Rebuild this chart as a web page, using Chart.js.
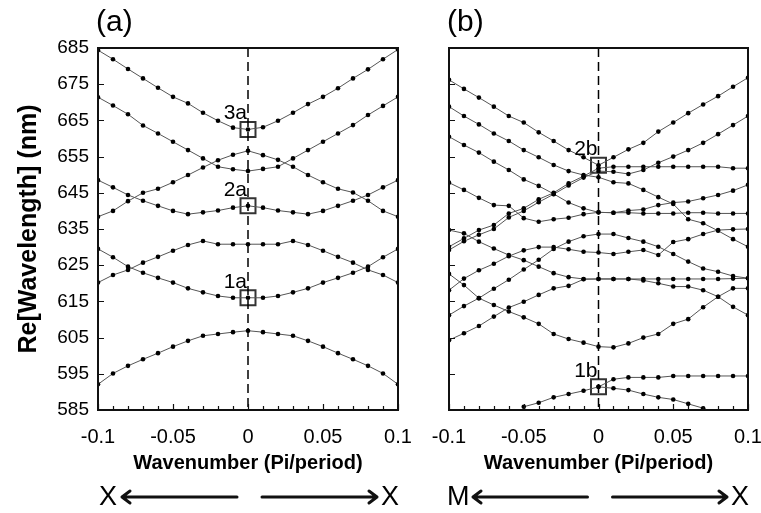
<!DOCTYPE html>
<html>
<head>
<meta charset="utf-8">
<script src="https://cdn.jsdelivr.net/npm/chart.js@4.4.1/dist/chart.umd.min.js"></script>
<style>
  html, body { margin: 0; padding: 0; background: #fff; }
  #wrap { position: relative; width: 761px; height: 513px; background: #fff; }
  #wrap canvas { position: absolute; left: 0; top: 0; }
</style>
</head>
<body>
<div id="wrap">
  <canvas id="chartA" width="761" height="513"></canvas>
  <canvas id="chartB" width="761" height="513"></canvas>
</div>
<script>
// ------------------ Data ------------------
const wavenumber = [-0.1, -0.09, -0.08, -0.07, -0.06, -0.05, -0.04, -0.03, -0.02, -0.01, 0,
                    0.01, 0.02, 0.03, 0.04, 0.05, 0.06, 0.07, 0.08, 0.09, 0.1];
const xTickValues = [-0.1, -0.05, 0, 0.05, 0.1];
const xTickLabels = ["-0.1", "-0.05", "0", "0.05", "0.1"];
const yTicks = [585, 595, 605, 615, 625, 635, 645, 655, 665, 675, 685];

// panel (a), X <- -> X
const a1 = [684.4, 681.9, 679.2, 676.6, 674.0, 671.5, 669.7, 667.1, 664.9, 663.0, 662.5, 663.1, 664.9, 667.1, 669.5, 671.5, 673.9, 676.6, 679.1, 681.9, 684.6];
const a2 = [671.4, 669.1, 666.7, 663.6, 661.4, 659.1, 656.8, 654.5, 652.2, 651.5, 651.0, 651.6, 652.2, 654.5, 656.8, 659.1, 661.4, 663.7, 666.5, 669.0, 671.5];
const a3 = [638.4, 640.0, 642.7, 645.0, 646.1, 647.9, 649.9, 652.0, 654.0, 655.5, 656.6, 655.4, 654.1, 652.2, 649.9, 647.9, 646.1, 645.1, 642.8, 640.0, 638.4];
const a4 = [648.5, 646.5, 644.4, 642.8, 641.4, 640.0, 639.1, 639.6, 640.1, 640.9, 641.4, 640.9, 640.1, 639.6, 639.1, 640.0, 641.4, 642.8, 644.4, 646.5, 648.5];
const a5 = [629.5, 627.2, 624.6, 622.9, 621.5, 620.2, 618.6, 617.5, 616.5, 616.0, 616.0, 616.0, 616.5, 617.5, 618.6, 620.2, 621.5, 622.9, 624.6, 627.2, 629.5];
const a6 = [620.2, 622.3, 623.7, 625.7, 627.3, 629.0, 630.6, 631.7, 630.8, 630.8, 630.8, 630.8, 630.8, 631.7, 630.6, 629.0, 627.3, 625.7, 623.7, 622.3, 620.2];
const a7 = [592.1, 595.1, 597.2, 599.0, 600.7, 602.5, 604.1, 605.5, 606.0, 606.5, 606.9, 606.5, 606.0, 605.5, 604.1, 602.5, 600.7, 599.0, 597.2, 595.1, 592.1];

// panel (b), M <- -> X
const b1 = [676.2, 673.7, 671.3, 668.8, 666.2, 664.4, 661.7, 659.3, 656.8, 654.8, 652.6, 654.8, 657.0, 658.8, 661.9, 664.4, 667.0, 669.4, 671.7, 674.3, 676.8];
const b2 = [668.8, 666.2, 663.9, 661.4, 659.3, 656.8, 654.8, 652.7, 651.0, 649.9, 649.3, 647.9, 647.6, 645.8, 643.8, 641.9, 637.7, 636.6, 634.5, 632.2, 630.1];
const b3 = [630.1, 632.4, 634.7, 636.1, 639.3, 640.7, 643.2, 645.0, 647.6, 649.6, 651.8, 652.2, 652.2, 652.2, 652.2, 652.2, 652.2, 652.2, 652.2, 651.8, 651.8];
const b4 = [629.2, 631.6, 633.4, 635.0, 638.2, 640.0, 642.4, 644.6, 647.0, 649.2, 651.0, 650.8, 650.2, 651.3, 653.3, 655.0, 656.8, 658.8, 661.2, 663.7, 666.2];
const b5 = [660.5, 658.2, 656.1, 653.6, 651.3, 648.7, 646.9, 644.7, 642.3, 640.7, 639.6, 639.5, 639.5, 639.3, 639.3, 639.3, 639.5, 639.5, 639.3, 639.3, 639.3];
const b6 = [647.8, 645.8, 643.6, 641.6, 641.4, 638.0, 637.0, 637.7, 638.1, 639.1, 639.6, 639.5, 640.1, 640.4, 641.6, 642.3, 642.6, 643.5, 644.4, 645.6, 647.2];
const b7 = [634.7, 633.8, 631.5, 629.6, 627.8, 626.4, 624.6, 622.8, 621.7, 621.2, 621.2, 621.2, 621.2, 621.2, 621.2, 621.2, 621.2, 621.2, 621.2, 621.3, 621.4];
const b8 = [611.2, 613.7, 615.9, 618.5, 621.0, 623.8, 626.5, 629.5, 631.5, 633.0, 633.6, 633.6, 632.5, 631.5, 630.1, 628.1, 626.0, 624.1, 623.2, 622.0, 621.4];
const b9 = [618.1, 621.3, 623.6, 625.4, 627.5, 629.1, 630.0, 630.0, 629.4, 628.7, 628.5, 628.1, 628.7, 629.2, 627.8, 631.4, 632.2, 633.6, 634.7, 634.9, 635.0];
const b10 = [604.3, 606.2, 608.2, 610.8, 613.3, 614.9, 616.8, 618.6, 619.3, 621.1, 621.2, 621.2, 621.2, 620.8, 620.0, 619.1, 619.1, 618.1, 616.3, 613.5, 611.2];
const b11 = [622.6, 619.5, 615.9, 614.0, 612.2, 610.6, 608.8, 606.0, 604.6, 603.6, 602.5, 602.3, 603.4, 605.0, 606.0, 608.8, 610.1, 613.4, 616.3, 618.6, 618.6];
const b12 = [null, null, null, null, null, 585.9, 587.0, 588.5, 589.4, 590.3, 591.4, 593.5, 594.0, 594.0, 594.0, 594.4, 594.4, 594.4, 594.4, 594.4, 594.4];
const b13 = [null, null, null, null, null, null, null, null, null, null, 591.4, 591.0, 590.5, 589.4, 588.5, 587.9, 586.7, 585.5, null, null, null];

// marked modes (boxes)
const boxLabelsA = ["3a", "2a", "1a"];
const boxValuesA = [662.5, 641.4, 616.0];
const boxLabelsB = ["2b", "1b"];
const boxValuesB = [652.6, 591.4];

// ------------------ Helpers ------------------
const FONT = "'Liberation Sans', Arial, sans-serif";

function toPoints(values) {
  return values.map((v, i) => ({ x: wavenumber[i], y: v }));
}

function bandDataset(values) {
  return {
    type: "line",
    data: toPoints(values),
    borderColor: "#555",
    borderWidth: 1,
    pointRadius: 2.3,
    pointBackgroundColor: "#000",
    pointBorderColor: "#000",
    pointBorderWidth: 0,
    tension: 0,
    spanGaps: false
  };
}

function boxDataset(values) {
  return {
    type: "scatter",
    data: values.map(v => ({ x: 0, y: v })),
    pointStyle: "rect",
    pointRadius: 10.6,
    borderColor: "#333",
    borderWidth: 2,
    backgroundColor: "rgba(0,0,0,0)",
    showLine: false
  };
}

// frame, inner ticks, dashed k=0 line, panel letter, box labels, direction arrows
const decorPlugin = {
  id: "decor",
  afterDatasetsDraw(chart, args, opts) {
    const { ctx, chartArea: a, scales: { x, y } } = chart;
    const x0 = x.getPixelForValue(0);
    ctx.save();

    // dashed line at k = 0
    ctx.strokeStyle = "#000";
    ctx.lineWidth = 1.5;
    ctx.setLineDash([9, 5]);
    ctx.beginPath();
    ctx.moveTo(x0, a.top);
    ctx.lineTo(x0, a.bottom);
    ctx.stroke();
    ctx.setLineDash([]);

    // inner tick marks
    ctx.strokeStyle = "#111";
    ctx.lineWidth = 1.2;
    ctx.beginPath();
    yTicks.forEach(v => {
      const py = Math.round(y.getPixelForValue(v)) + 0.5;
      ctx.moveTo(a.left, py);
      ctx.lineTo(a.left + 6, py);
    });
    wavenumber.forEach(v => {
      const px = Math.round(x.getPixelForValue(v)) + 0.5;
      const major = xTickValues.includes(v);
      ctx.moveTo(px, a.bottom);
      ctx.lineTo(px, a.bottom - (major ? 6 : 4));
    });
    ctx.stroke();

    // frame
    ctx.lineWidth = 2;
    ctx.strokeStyle = "#111";
    ctx.strokeRect(a.left, a.top, a.right - a.left, a.bottom - a.top);

    // panel letter
    ctx.fillStyle = "#000";
    ctx.font = "30px " + FONT;
    ctx.textAlign = "left";
    ctx.textBaseline = "alphabetic";
    ctx.fillText(opts.letter, a.left - 2, 31);

    // box labels
    ctx.font = "21px " + FONT;
    ctx.textAlign = "right";
    opts.boxLabels.forEach((t, i) => {
      const py = y.getPixelForValue(opts.boxValues[i]);
      ctx.fillText(t, x0 - 1, py - 10);
    });

    // direction arrows
    const ay = 497;
    ctx.font = "27px " + FONT;
    ctx.textBaseline = "middle";
    ctx.textAlign = "left";
    ctx.fillText(opts.leftEnd, a.left + opts.leftShift, ay + 1);
    ctx.textAlign = "right";
    ctx.fillText(opts.rightEnd, a.right + 1, ay + 1);

    ctx.lineWidth = 3;
    ctx.lineCap = "round";
    ctx.lineJoin = "round";
    const lStart = a.left + opts.leftGap, lEnd = x0 - 11;
    const rStart = x0 + 14, rEnd = a.right - 21;
    ctx.beginPath();
    ctx.moveTo(lStart, ay); ctx.lineTo(lEnd, ay);
    ctx.moveTo(lStart + 8, ay - 6); ctx.lineTo(lStart, ay); ctx.lineTo(lStart + 8, ay + 6);
    ctx.moveTo(rStart, ay); ctx.lineTo(rEnd, ay);
    ctx.moveTo(rEnd - 8, ay - 6); ctx.lineTo(rEnd, ay); ctx.lineTo(rEnd - 8, ay + 6);
    ctx.stroke();

    ctx.restore();
  }
};

function makeChart(id, bands, boxVals, boxLbls, cfg) {
  const datasets = bands.map(bandDataset);
  datasets.push(boxDataset(boxVals));
  return new Chart(document.getElementById(id), {
    data: { datasets },
    options: {
      responsive: false,
      animation: false,
      layout: { padding: cfg.padding },
      plugins: {
        legend: { display: false },
        tooltip: { enabled: false },
        decor: {
          letter: cfg.letter,
          boxLabels: boxLbls,
          boxValues: boxVals,
          leftEnd: cfg.leftEnd,
          rightEnd: "X",
          leftGap: cfg.leftGap,
          leftShift: cfg.leftShift
        }
      },
      scales: {
        x: {
          type: "linear",
          min: -0.1,
          max: 0.1,
          afterBuildTicks: s => { s.ticks = xTickValues.map(v => ({ value: v })); },
          afterFit: s => { s.height = 73; s.paddingLeft = 0; s.paddingRight = 0; },
          grid: { display: false, drawTicks: false },
          border: { display: false },
          ticks: {
            padding: 15,
            color: "#000",
            font: { family: FONT, size: 20 },
            maxRotation: 0,
            callback: (v) => xTickLabels[xTickValues.indexOf(v)] ?? ""
          },
          title: {
            display: true,
            text: "Wavenumber (Pi/period)",
            color: "#000",
            font: { family: FONT, size: 20, weight: "bold" },
            padding: { top: 0, bottom: 8 }
          }
        },
        y: {
          type: "linear",
          min: 585,
          max: 685,
          afterBuildTicks: s => { s.ticks = yTicks.map(v => ({ value: v })); },
          afterFit: s => { s.width = cfg.yWidth; },
          grid: { display: false, drawTicks: false },
          border: { display: false },
          ticks: {
            display: cfg.showY,
            padding: 9,
            color: "#000",
            font: { family: FONT, size: 19 }
          },
          title: {
            display: cfg.showY,
            text: "Re[Wavelength] (nm)",
            color: "#000",
            font: { family: FONT, size: 25, weight: "bold" },
            padding: { top: 14, bottom: 0 }
          }
        }
      }
    },
    plugins: [decorPlugin]
  });
}

makeChart("chartA", [a1, a2, a3, a4, a5, a6, a7], boxValuesA, boxLabelsA, {
  letter: "(a)", leftEnd: "X", leftGap: 24, leftShift: 1, showY: true, yWidth: 98,
  padding: { left: 0, top: 48, right: 363, bottom: 30 }
});

makeChart("chartB", [b1, b2, b3, b4, b5, b6, b7, b8, b9, b10, b11, b12, b13], boxValuesB, boxLabelsB, {
  letter: "(b)", leftEnd: "M", leftGap: 24, leftShift: -2, showY: false, yWidth: 30,
  padding: { left: 419, top: 48, right: 13, bottom: 30 }
});
</script>
</body>
</html>
